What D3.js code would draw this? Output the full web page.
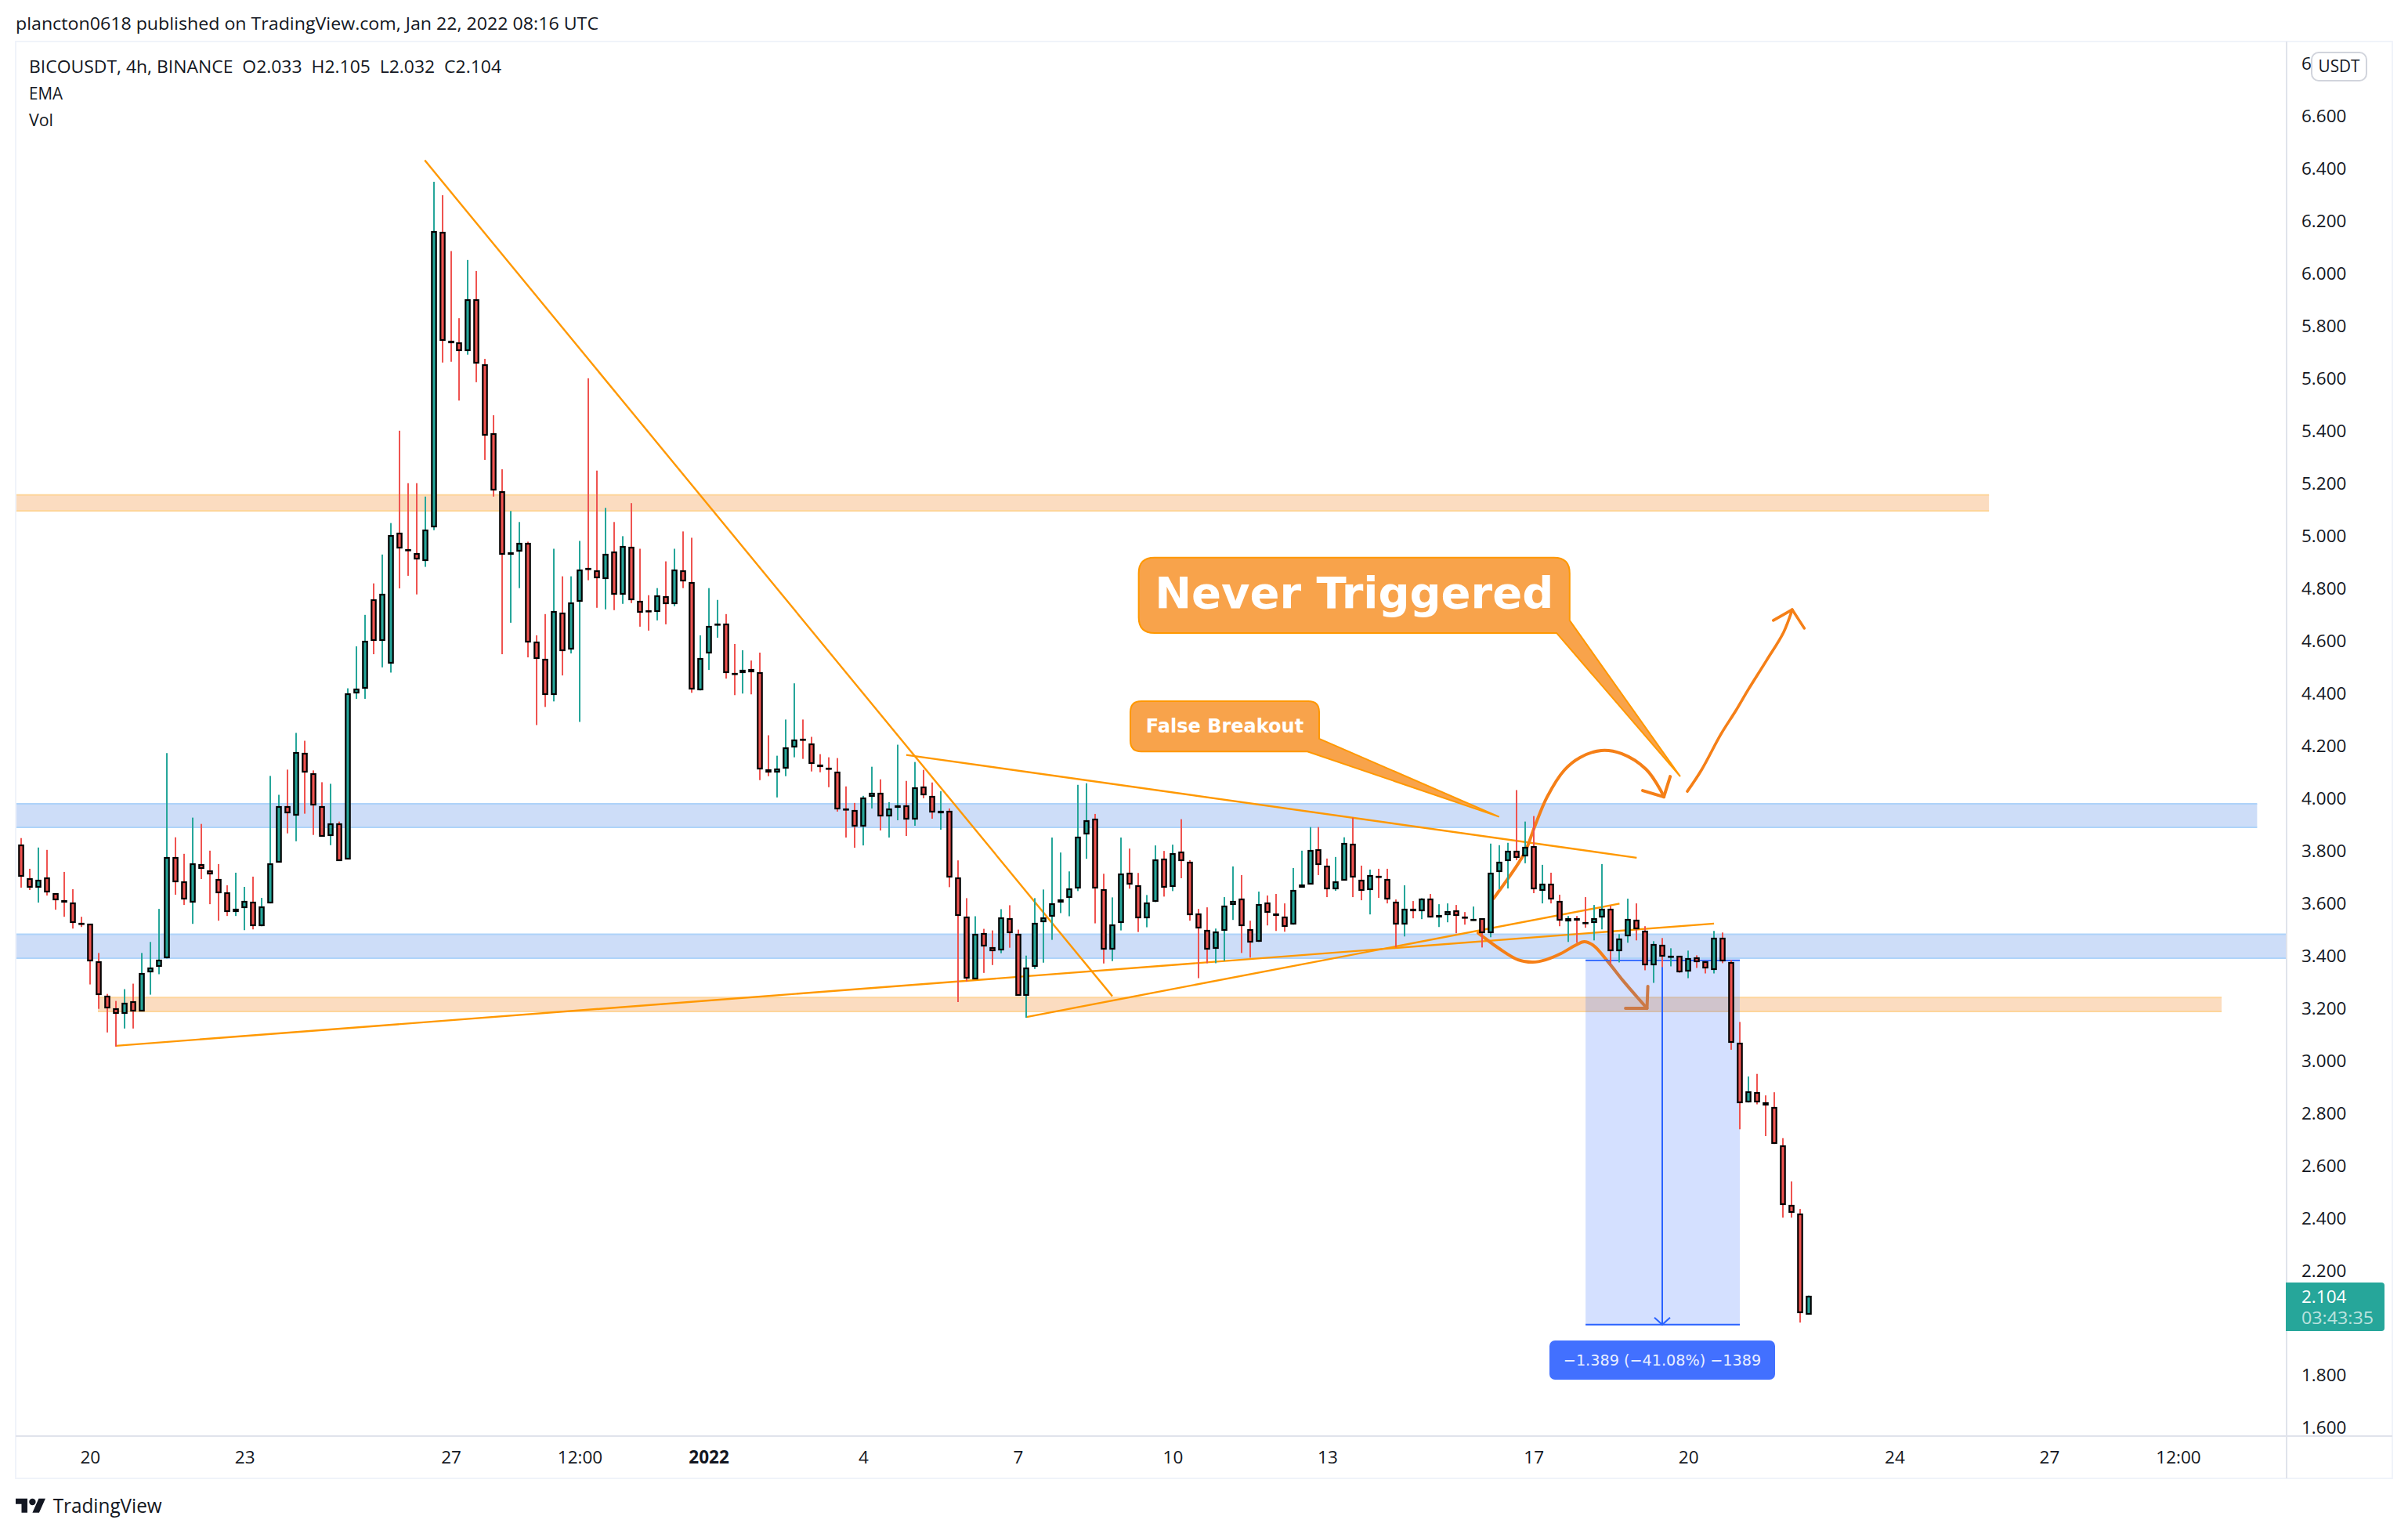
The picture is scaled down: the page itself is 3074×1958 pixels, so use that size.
<![CDATA[<!DOCTYPE html>
<html><head><meta charset="utf-8">
<script src="https://d3js.org/d3.v7.min.js"></script>
<style>html,body{margin:0;padding:0;background:#fff;overflow:hidden}svg{display:block}text{font-family:"Open Sans",sans-serif}</style>
</head><body><svg id="c" width="3074" height="1958"></svg>
<script>
const opens=[3.825,3.696,3.660,3.699,3.639,3.612,3.603,3.526,3.522,3.378,3.249,3.201,3.180,3.228,3.189,3.336,3.357,3.390,3.777,3.684,3.603,3.750,3.726,3.693,3.642,3.567,3.582,3.606,3.513,3.600,3.756,3.972,3.936,4.173,4.095,3.972,3.858,3.906,3.768,4.40,4.42,4.76,4.60,4.513,5.014,4.950,4.936,4.905,5.034,6.159,5.745,5.739,5.706,5.904,5.656,5.392,5.171,4.929,4.940,4.973,4.598,4.532,4.394,4.709,4.568,4.751,4.879,4.871,4.838,4.940,4.778,4.958,4.754,4.717,4.712,4.772,4.742,4.871,4.826,4.412,4.553,4.663,4.667,4.478,4.478,4.493,4.481,4.112,4.100,4.115,4.196,4.227,4.211,4.130,4.118,4.103,3.963,3.956,3.893,4.007,4.022,3.932,3.965,3.974,3.920,4.046,4.010,3.944,3.953,3.698,3.551,3.311,3.488,3.434,3.422,3.545,3.485,3.248,3.359,3.530,3.551,3.602,3.620,3.656,3.863,3.923,3.653,3.425,3.527,3.716,3.668,3.545,3.605,3.770,3.662,3.798,3.759,3.561,3.498,3.426,3.495,3.594,3.618,3.501,3.453,3.603,3.561,3.549,3.519,3.660,3.672,3.807,3.744,3.654,3.687,3.828,3.690,3.651,3.705,3.693,3.606,3.519,3.579,3.570,3.618,3.546,3.555,3.573,3.549,3.538,3.543,3.486,3.720,3.762,3.801,3.780,3.819,3.648,3.675,3.609,3.531,3.543,3.530,3.525,3.546,3.579,3.417,3.474,3.537,3.495,3.363,3.441,3.399,3.399,3.339,3.393,3.378,3.345,3.468,3.376,3.068,2.841,2.881,2.842,2.823,2.678,2.450,2.417,2.033];
const highs=[3.849,3.732,3.813,3.804,3.639,3.720,3.654,3.549,3.522,3.411,3.255,3.228,3.273,3.294,3.411,3.453,3.579,4.173,3.852,3.789,3.927,3.903,3.801,3.750,3.669,3.717,3.663,3.702,3.621,4.086,4.014,4.110,4.25,4.22,4.107,4.062,4.056,3.912,4.42,4.58,4.70,4.82,4.93,5.05,5.402,5.202,5.202,5.151,6.351,6.300,6.087,5.831,6.053,6.011,5.676,5.461,5.255,5.096,5.054,4.979,4.622,4.703,4.952,4.847,4.847,4.982,5.602,5.250,5.108,5.054,5.000,5.126,4.952,4.775,4.802,4.904,4.952,5.018,4.994,4.622,4.802,4.757,4.703,4.589,4.565,4.526,4.556,4.241,4.163,4.301,4.439,4.301,4.235,4.169,4.157,4.154,4.046,3.983,4.010,4.121,4.073,3.986,4.205,4.067,4.139,4.109,4.061,4.028,3.962,3.764,3.620,3.551,3.503,3.497,3.578,3.593,3.500,3.401,3.620,3.653,3.851,3.794,3.722,4.052,4.058,3.941,3.713,3.623,3.851,3.809,3.716,3.632,3.821,3.800,3.824,3.921,3.765,3.579,3.585,3.504,3.624,3.741,3.708,3.534,3.645,3.630,3.636,3.600,3.735,3.801,3.891,3.891,3.771,3.777,3.852,3.927,3.744,3.729,3.732,3.732,3.615,3.669,3.609,3.620,3.636,3.597,3.600,3.594,3.567,3.588,3.543,3.828,3.822,3.831,4.032,3.912,3.933,3.747,3.717,3.633,3.552,3.552,3.624,3.594,3.750,3.591,3.483,3.618,3.600,3.513,3.456,3.468,3.429,3.399,3.420,3.402,3.381,3.495,3.489,3.384,3.148,2.940,2.950,2.868,2.880,2.705,2.540,2.435,2.105];
const lows=[3.660,3.651,3.603,3.630,3.576,3.549,3.504,3.510,3.291,3.198,3.108,3.054,3.123,3.123,3.189,3.252,3.330,3.390,3.633,3.594,3.522,3.693,3.597,3.534,3.552,3.552,3.498,3.501,3.513,3.600,3.756,3.867,3.837,3.942,3.861,3.855,3.822,3.762,3.768,4.38,4.38,4.55,4.50,4.48,4.801,4.849,4.778,4.883,5.023,5.662,5.665,5.517,5.692,5.587,5.291,5.151,4.550,4.670,4.802,4.538,4.280,4.349,4.370,4.469,4.553,4.292,4.832,4.727,4.721,4.718,4.742,4.745,4.655,4.640,4.679,4.664,4.733,4.802,4.403,4.412,4.490,4.613,4.457,4.394,4.400,4.397,4.070,4.085,4.004,4.085,4.157,4.151,4.103,4.100,4.043,3.950,3.851,3.812,3.821,3.962,3.878,3.851,3.917,3.857,3.896,4.001,3.923,3.881,3.662,3.224,3.302,3.311,3.335,3.365,3.410,3.431,3.248,3.164,3.350,3.374,3.461,3.563,3.551,3.647,3.770,3.524,3.371,3.380,3.497,3.656,3.491,3.509,3.605,3.626,3.647,3.696,3.534,3.315,3.372,3.372,3.381,3.537,3.411,3.393,3.453,3.516,3.495,3.492,3.519,3.660,3.672,3.708,3.624,3.648,3.687,3.624,3.612,3.558,3.621,3.600,3.432,3.474,3.543,3.540,3.546,3.510,3.528,3.486,3.519,3.534,3.432,3.471,3.654,3.657,3.765,3.753,3.639,3.600,3.600,3.513,3.453,3.450,3.507,3.459,3.501,3.369,3.375,3.450,3.459,3.345,3.297,3.357,3.360,3.336,3.315,3.354,3.333,3.333,3.372,3.042,2.739,2.841,2.834,2.713,2.683,2.402,2.402,2.002,2.032];
const closes=[3.702,3.660,3.690,3.642,3.612,3.603,3.525,3.522,3.378,3.252,3.201,3.180,3.222,3.189,3.333,3.354,3.384,3.777,3.681,3.615,3.753,3.732,3.711,3.639,3.567,3.579,3.609,3.513,3.588,3.753,3.972,3.945,4.176,4.098,3.975,3.855,3.906,3.762,4.40,4.42,4.60,4.60,4.78,5.003,4.952,4.944,4.911,5.026,6.162,5.745,5.736,5.706,5.904,5.658,5.384,5.174,4.930,4.939,4.973,4.595,4.532,4.394,4.715,4.562,4.748,4.874,4.875,4.841,4.931,4.778,4.961,4.757,4.709,4.713,4.775,4.742,4.874,4.829,4.415,4.535,4.658,4.667,4.478,4.476,4.490,4.481,4.112,4.100,4.115,4.196,4.226,4.223,4.133,4.121,4.112,3.959,3.960,3.893,4.004,4.022,3.932,3.962,3.974,3.920,4.043,4.013,3.947,3.953,3.698,3.554,3.314,3.485,3.437,3.419,3.548,3.488,3.248,3.356,3.527,3.548,3.599,3.614,3.656,3.854,3.917,3.656,3.425,3.521,3.713,3.671,3.545,3.602,3.767,3.659,3.791,3.762,3.555,3.504,3.423,3.492,3.591,3.609,3.513,3.450,3.597,3.564,3.552,3.510,3.651,3.672,3.804,3.747,3.654,3.684,3.831,3.699,3.648,3.708,3.699,3.615,3.519,3.579,3.570,3.618,3.546,3.555,3.570,3.552,3.543,3.540,3.486,3.717,3.759,3.801,3.774,3.816,3.654,3.675,3.615,3.534,3.543,3.534,3.524,3.543,3.579,3.417,3.465,3.540,3.501,3.363,3.444,3.396,3.401,3.336,3.390,3.375,3.351,3.468,3.378,3.068,2.838,2.884,2.841,2.830,2.683,2.450,2.420,2.039,2.104];
const priceTicks=[1.6,1.8,2.2,2.4,2.6,2.8,3.0,3.2,3.4,3.6,3.8,4.0,4.2,4.4,4.6,4.8,5.0,5.2,5.4,5.6,5.8,6.0,6.2,6.4,6.6,6.8];
const timeBars=[8,26,50,65,80,98,116,134,152,176,194,218,236,251];
const timeLabels=["20","23","27","12:00","2022","4","7","10","13","17","20","24","27","12:00"];
// [bar, price] anchors of the drawings on the chart
const bandsBlue=[{x0:-5,x1:260.2,hi:3.980,lo:3.890},{x0:-5,x1:290,hi:3.482,lo:3.391}];
const bandsOrange=[{x0:-5,x1:229,hi:5.157,lo:5.097},{x0:8.93,x1:256.07,hi:3.241,lo:3.188}];
const trendLines=[[[46.97,6.433],[126.98,3.246]],[[11.03,3.057],[197,3.523]],[[103,4.166],[188,3.774]],[[117,3.167],[186,3.599]]];
const curveA=[[171.35,3.619],[173.75,3.729],[175.02,3.797],[176.2,3.899],[177.58,4.006],[179.58,4.108],[181.4,4.156],[183.87,4.183],[186.23,4.171],[189.1,4.111],[190.86,4.027],[191.16,4.006]];
const headA=[[188.7,4.030],[191.16,4.006],[191.9,4.084]];
const curveB=[[193.89,4.027],[195.53,4.108],[197.8,4.245],[199.54,4.335],[201.0,4.416],[203.1,4.526],[205.1,4.634],[206.1,4.720]];
const headB=[[203.9,4.679],[206.1,4.720],[207.5,4.649]];
const curveC=[[169.55,3.487],[171.9,3.430],[174.2,3.385],[175.9,3.376],[177.4,3.385],[179.2,3.409],[180.8,3.439],[181.9,3.454],[183.0,3.439],[184.7,3.376],[186.5,3.302],[189.2,3.200]];
const headC=[[186.7,3.200],[189.2,3.200],[189.3,3.284]];
const callouts=[
 {text:"Never Triggered",size:56,dy:16,l:130.05,r:180.2,t:4.918,b:4.631,py:4.679,tipX:193.07,tipY:4.084,bx:178.67,rad:20},
 {text:"False Breakout",size:24,dy:8,l:129.08,r:151.05,t:4.371,b:4.179,py:4.228,tipX:172.0,tipY:3.930,bx:149.68,rad:14}];
const measure={x0:182.05,x1:200,xMid:191,hi:3.383,lo:1.994,label:"\u22121.389 (\u221241.08%) \u22121389"};
const lastPrice=2.104;

const leftX=20,topY=53,axisX=2919,axisY=1833,rightX=3054,bottomY=1887;
const svg=d3.select("#c");
const x=d3.scaleLinear().domain([0,208]).range([27,27+208*10.97]);
const y=d3.scaleLinear().domain([6.6,1.6]).range([148.7,148.7+5*334.8]);
const ink="#131722",bold='"DejaVu Sans",sans-serif',body='"Open Sans",sans-serif',fs=22.5;

svg.append("defs").append("clipPath").attr("id","plot").append("rect")
  .attr("x",leftX).attr("y",topY).attr("width",axisX-leftX).attr("height",axisY-topY);
const plot=svg.append("g").attr("clip-path","url(#plot)");

function band(d,fill,edge){
  plot.append("rect").attr("x",x(d.x0)).attr("y",y(d.hi)).attr("width",x(d.x1)-x(d.x0)).attr("height",y(d.lo)-y(d.hi)).attr("fill",fill);
  [d.hi,d.lo].forEach(p=>plot.append("line").attr("x1",x(d.x0)).attr("x2",x(d.x1)).attr("y1",y(p)).attr("y2",y(p)).attr("stroke",edge).attr("stroke-width",2));
}
bandsBlue.forEach(d=>band(d,"#cdddf8","#aed3f9"));
bandsOrange.forEach(d=>band(d,"#fbdcc0","#fed59b"));

const lineGen=d3.line().x(d=>x(d[0])).y(d=>y(d[1]));
plot.selectAll(".trend").data(trendLines).join("path").attr("class","trend").attr("d",lineGen)
  .attr("fill","none").attr("stroke","#ff9800").attr("stroke-width",2.4);

callouts.forEach(c=>{
  const L=x(c.l),R=x(c.r),T=y(c.t),B=y(c.b),r=c.rad;
  const p=d3.path();
  p.moveTo(L+r,T);p.lineTo(R-r,T);p.quadraticCurveTo(R,T,R,T+r);
  p.lineTo(R,y(c.py));p.lineTo(x(c.tipX),y(c.tipY));p.lineTo(x(c.bx),B);
  p.lineTo(L+r,B);p.quadraticCurveTo(L,B,L,B-r);p.lineTo(L,T+r);p.quadraticCurveTo(L,T,L+r,T);p.closePath();
  plot.append("path").attr("d",p.toString()).attr("fill","#f8a34b").attr("stroke","#ff9800").attr("stroke-width",2);
  plot.append("text").attr("x",(L+R)/2).attr("y",(T+B)/2+c.dy).attr("text-anchor","middle").attr("fill","#fff")
    .attr("font-weight","bold").attr("font-size",c.size).style("font-family",bold).text(c.text);
});

const brush=d3.line().x(d=>x(d[0])).y(d=>y(d[1])).curve(d3.curveCatmullRom.alpha(0.5));
function stroke(pts,w,gen){plot.append("path").attr("d",gen(pts)).attr("fill","none").attr("stroke","#f57f17").attr("stroke-width",w).attr("stroke-linecap","round").attr("stroke-linejoin","round");}
stroke(curveA,4,brush);stroke(headA,4,lineGen);
stroke(curveB,3.6,brush);stroke(headB,3.6,lineGen);
stroke(curveC,4,brush);stroke(headC,4,lineGen);

// measure tool
const mBlue="#2962ff";
plot.append("rect").attr("x",x(measure.x0)).attr("y",y(measure.hi)).attr("width",x(measure.x1)-x(measure.x0)).attr("height",y(measure.lo)-y(measure.hi)).attr("fill","rgba(41,98,255,0.2)");
[measure.hi,measure.lo].forEach(p=>plot.append("line").attr("x1",x(measure.x0)).attr("x2",x(measure.x1)).attr("y1",y(p)).attr("y2",y(p)).attr("stroke",mBlue).attr("stroke-width",2));
const mx=Math.round(x(measure.xMid)),my=y(measure.lo);
plot.append("line").attr("x1",mx).attr("x2",mx).attr("y1",y(measure.hi)).attr("y2",my).attr("stroke",mBlue).attr("stroke-width",2);
plot.append("path").attr("d",`M${mx-10},${my-9}L${mx},${my}L${mx+10},${my-9}`).attr("fill","none").attr("stroke",mBlue).attr("stroke-width",2);

// candles
const up="#26a69a",dn="#ef5350";
const candles=opens.map((o,i)=>({i,o,h:highs[i],l:lows[i],c:closes[i]}));
const cg=plot.append("g");
const bw=5.4;
cg.selectAll(".wick").data(candles).join("rect").attr("class","wick")
  .attr("x",d=>Math.round(x(d.i))-1).attr("width",2).attr("y",d=>y(d.h)).attr("height",d=>y(d.l)-y(d.h))
  .attr("fill",d=>d.c>=d.o?up:dn);
const yTop=d=>Math.round(y(Math.max(d.o,d.c)))+1, yBot=d=>Math.round(y(Math.min(d.o,d.c)))-1;
cg.selectAll(".body").data(candles).join("rect").attr("class","body")
  .attr("x",d=>Math.round(x(d.i))-bw/2).attr("width",bw)
  .attr("y",yTop).attr("height",d=>Math.max(0.5,yBot(d)-yTop(d)))
  .attr("fill",d=>d.c>=d.o?up:dn).attr("stroke","#000").attr("stroke-width",2.2);

// measure label, above candles
const lw=288,lh=50,ly=1711;
svg.append("rect").attr("x",mx-144).attr("y",ly).attr("width",lw).attr("height",lh).attr("rx",7).attr("fill","#4270ff");
svg.append("text").attr("x",mx).attr("y",ly+lh/2+7).attr("text-anchor","middle").attr("fill","#e8eeff").attr("font-size",19.2).style("font-family",bold).text(measure.label);

// frame
const frame=svg.append("g").attr("fill","none");
frame.append("rect").attr("x",leftX).attr("y",topY).attr("width",rightX-leftX).attr("height",bottomY-topY).attr("stroke","#f0f3fa").attr("stroke-width",2);
frame.append("line").attr("x1",axisX).attr("x2",axisX).attr("y1",topY).attr("y2",bottomY).attr("stroke","#e0e3eb").attr("stroke-width",2);
frame.append("line").attr("x1",leftX).attr("x2",rightX).attr("y1",axisY).attr("y2",axisY).attr("stroke","#e0e3eb").attr("stroke-width",2);

// axes
const yAxis=d3.axisRight(y).tickValues(priceTicks).tickSize(0).tickPadding(19).tickFormat(d3.format(".3f"));
svg.append("defs").append("clipPath").attr("id","pa").append("rect").attr("x",axisX).attr("y",topY).attr("width",rightX-axisX).attr("height",axisY-topY);
const ya=svg.append("g").attr("clip-path","url(#pa)").append("g").attr("transform",`translate(${axisX},0)`).call(yAxis);
ya.select(".domain").remove();
ya.selectAll("text").attr("font-size",fs).attr("fill",ink).style("font-family",body);

const xAxis=d3.axisBottom(x).tickValues(timeBars).tickSize(0).tickPadding(19).tickFormat((d,i)=>timeLabels[i]);
const xa=svg.append("g").attr("transform",`translate(0,${axisY})`).call(xAxis);
xa.select(".domain").remove();
xa.selectAll("text").attr("font-size",fs).attr("fill",ink).style("font-family",body).attr("font-weight",(d,i)=>timeLabels[i]==="2022"?"bold":"normal");

// currency tag and last-price tag
svg.append("rect").attr("x",2951).attr("y",67).attr("width",70).attr("height",36).attr("rx",9).attr("fill","#fff").attr("stroke","#d1d4dc").attr("stroke-width",2);
svg.append("text").attr("x",2959.5).attr("y",92).attr("fill",ink).attr("font-size",fs).attr("textLength",53).attr("lengthAdjust","spacingAndGlyphs").text("USDT");
svg.append("path").attr("d",`M2918,1637H3040a4,4 0 0 1 4,4V1695a4,4 0 0 1 -4,4H2918Z`).attr("fill","#26a69a");
svg.append("text").attr("x",2938).attr("y",1663).attr("fill","#fff").attr("font-size",fs).text(d3.format(".3f")(lastPrice));
svg.append("text").attr("x",2938).attr("y",1690).attr("fill","rgba(255,255,255,0.7)").attr("font-size",fs).attr("textLength",92).attr("lengthAdjust","spacingAndGlyphs").text("03:43:35");

// header and legend
function tx(t,X,Y,size,len){const n=svg.append("text").attr("x",X).attr("y",Y).attr("fill",ink).attr("font-size",size).text(t);if(len)n.attr("textLength",len).attr("lengthAdjust","spacingAndGlyphs");return n;}
tx("plancton0618 published on TradingView.com, Jan 22, 2022 08:16 UTC",20,38,fs,744);
tx("BICOUSDT, 4h, BINANCE  O2.033  H2.105  L2.032  C2.104",37,92.5,fs,603).style("white-space","pre");
tx("EMA",37,126.5,fs,43);
tx("Vol",37,160.5,fs,31);

// logo
svg.append("path").attr("transform","translate(20,1908.8) scale(1.07,1.0)")
  .attr("d","M14 22H7V11H0V4h14v18zM28 22h-8l7.5-18h8L28 22z").attr("fill",ink);
svg.append("circle").attr("cx",41.4).attr("cy",1917).attr("r",4.2).attr("fill",ink);
tx("TradingView",67.7,1931,26,139);
</script></body></html>]]>
